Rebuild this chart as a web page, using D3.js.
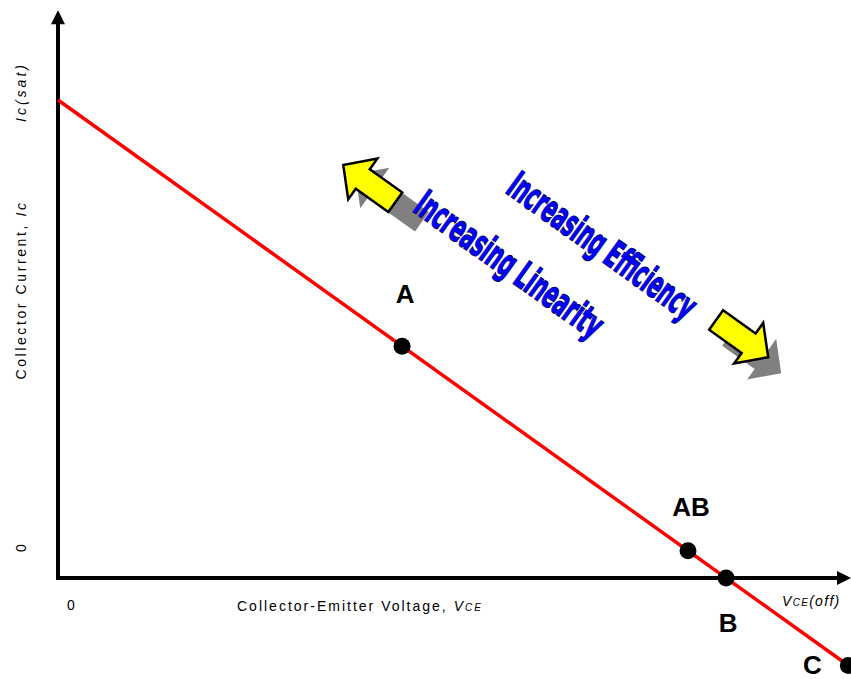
<!doctype html>
<html>
<head>
<meta charset="utf-8">
<title>Load line</title>
<script src="https://d3js.org/d3.v7.min.js"></script>
<style>
  body { margin: 0; background: #fff; }
  svg { display: block; }
  .lbl { font-family: 'Liberation Sans', Arial, sans-serif; font-size: 14px; fill: #000; letter-spacing: 2px; }
  .pt { font-family: 'Liberation Sans', Arial, sans-serif; font-size: 26px; font-weight: bold; fill: #000; }
  .word { font-family: 'Liberation Sans Narrow', 'DejaVu Sans Condensed', 'Arial Narrow', sans-serif;
          font-weight: bold; font-size: 38px; fill: #0000ff; stroke: #000; stroke-width: 1.4px;
          paint-order: stroke; }
</style>
</head>
<body>
<script>
// load line end points (Vce normalised to Vce(off), Ic normalised to Ic(sat))
var lineV = [0, 1.183]
var lineI = [1, -0.183]

// operating points
var points = ["A", "AB", "B", "C"]
var pointV = [0.515, 0.943, 1, 1.183]
var pointI = [0.485, 0.057, 0, -0.183]

var width = 851, height = 679

var x = d3.scaleLinear().domain([0, 1.187]).range([58, 851])
var y = d3.scaleLinear().domain([0, 1]).range([578, 100])

var svg = d3.select("body").append("svg")
    .attr("width", width)
    .attr("height", height)

// axes (no ticks, just arrows)
var ax = svg.append("g")
ax.append("line")
    .attr("x1", x(0)).attr("y1", y(0))
    .attr("x2", x(1.187) - 12).attr("y2", y(0))
    .attr("stroke", "#000").attr("stroke-width", 4)
ax.append("line")
    .attr("x1", x(0)).attr("y1", y(0) + 2)
    .attr("x2", x(0)).attr("y2", y(1.188) + 12)
    .attr("stroke", "#000").attr("stroke-width", 4)
ax.append("path")
    .attr("d", "M" + x(1.187) + "," + y(0) + "l-14,-7l0,14z")
    .attr("fill", "#000")
ax.append("path")
    .attr("d", "M" + x(0) + "," + y(1.188) + "l-7,14l14,0z")
    .attr("fill", "#000")

// load line
svg.append("path")
    .datum(d3.zip(lineV, lineI))
    .attr("d", d3.line().x(function(d) { return x(d[0]) }).y(function(d) { return y(d[1]) }))
    .attr("stroke", "#ff0000")
    .attr("stroke-width", 3.5)
    .attr("fill", "none")

var ang = Math.atan2(y(lineI[1]) - y(lineI[0]), x(lineV[1]) - x(lineV[0])) * 180 / Math.PI

// points
svg.selectAll(".dot")
    .data(points)
    .enter().append("circle")
    .attr("class", "dot")
    .attr("cx", function(d, i) { return x(pointV[i]) })
    .attr("cy", function(d, i) { return y(pointI[i]) })
    .attr("r", 8.5)
    .attr("fill", "#000")

var lblOff = { A: [3, -43], AB: [3, -35], B: [2, 54], C: [-36, 9] }
svg.selectAll(".pt")
    .data(points)
    .enter().append("text")
    .attr("class", "pt")
    .attr("text-anchor", "middle")
    .attr("x", function(d, i) { return x(pointV[i]) + lblOff[d][0] })
    .attr("y", function(d, i) { return y(pointI[i]) + lblOff[d][1] })
    .text(function(d) { return d })

// axis texts
svg.append("text").attr("class", "lbl")
    .attr("x", 72).attr("y", 610).attr("text-anchor", "middle").text("0")
svg.append("text").attr("class", "lbl")
    .attr("transform", "translate(26,547) rotate(-90)")
    .attr("text-anchor", "middle").text("0")

var xl = svg.append("text").attr("class", "lbl")
    .attr("x", 237).attr("y", 611)
xl.append("tspan").text("Collector-Emitter Voltage, ")
xl.append("tspan").attr("font-style", "italic").text("V")
xl.append("tspan").attr("font-style", "italic").attr("font-size", "10px").text("CE")

var xo = svg.append("text").attr("class", "lbl")
    .attr("x", 782).attr("y", 606).style("letter-spacing", "1.3px")
xo.append("tspan").attr("font-style", "italic").text("V")
xo.append("tspan").attr("font-style", "italic").attr("font-size", "10px").text("CE")
xo.append("tspan").attr("font-style", "italic").text("(off)")

var yl = svg.append("text").attr("class", "lbl")
    .attr("transform", "translate(26,290) rotate(-90)")
    .attr("text-anchor", "middle")
    .style("letter-spacing", "2.6px")
yl.append("tspan").text("Collector Current, ")
yl.append("tspan").attr("font-style", "italic").text("Ic")

svg.append("text").attr("class", "lbl")
    .attr("transform", "translate(26," + (y(1) - 8) + ") rotate(-90)")
    .attr("text-anchor", "middle")
    .attr("font-style", "italic")
    .style("letter-spacing", "3px")
    .text("Ic(sat)")

// annotation arrows: tip in data units, pointing back (180) or forward (0) along the line
function arrowPath(L, hl, hw, sw) {
  return "M0,0L" + (-hl) + "," + (-hw) + "L" + (-hl) + "," + (-sw) + "L" + (-L) + "," + (-sw) +
         "L" + (-L) + "," + sw + "L" + (-hl) + "," + sw + "L" + (-hl) + "," + hw + "Z"
}
var arrows = [
  { v: 0.427, i: 0.864, dir: 180, sdx: 12, sdy: 9, sL: 82 },
  { v: 1.063, i: 0.462, dir: 0, sdx: 13, sdy: 16, sL: 64 }
]
arrows.forEach(function(a) {
  var px = x(a.v), py = y(a.i), r = ang + a.dir
  svg.append("path")
      .attr("transform", "translate(" + (px + a.sdx) + "," + (py + a.sdy) + ") rotate(" + r + ")")
      .attr("d", arrowPath(a.sL, 24, 25, 12))
      .attr("fill", "#808080")
  svg.append("path")
      .attr("transform", "translate(" + px + "," + py + ") rotate(" + r + ")")
      .attr("d", arrowPath(64, 24, 25, 12))
      .attr("fill", "#ffff00")
      .attr("stroke", "#000")
      .attr("stroke-width", 2.5)
      .attr("stroke-linejoin", "miter")
})

// captions along the line
var captions = ["Increasing Linearity", "Increasing Efficiency"]
var capV = [0.674, 0.813]
var capI = [0.653, 0.692]
svg.selectAll(".word")
    .data(captions)
    .enter().append("text")
    .attr("class", "word")
    .attr("transform", function(d, i) { return "translate(" + x(capV[i]) + "," + y(capI[i]) + ") rotate(" + ang + ")" })
    .attr("text-anchor", "middle")
    .attr("dy", "0.3em")
    .attr("textLength", 222)
    .attr("lengthAdjust", "spacingAndGlyphs")
    .text(function(d) { return d })
</script>
</body>
</html>
